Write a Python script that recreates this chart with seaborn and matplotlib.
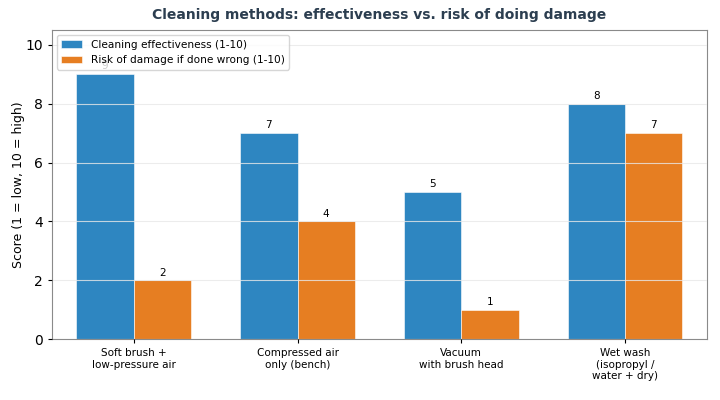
import pandas as pd
import matplotlib.pyplot as plt
import seaborn as sns

# Chart data
methods = [
    "Soft brush +\nlow-pressure air",
    "Compressed air\nonly (bench)",
    "Vacuum\nwith brush head",
    "Wet wash\n(isopropyl /\nwater + dry)",
]
effectiveness = [9, 7, 5, 8]
risk = [2, 4, 1, 7]
series_names = ["Cleaning effectiveness (1-10)", "Risk of damage if done wrong (1-10)"]
colors = ["#2e86c1", "#e67e22"]

df = pd.DataFrame({
    "method": methods * 2,
    "score": effectiveness + risk,
    "series": [series_names[0]] * len(methods) + [series_names[1]] * len(methods),
})

sns.set_style("white")
plt.rcParams['font.family'] = ['DejaVu Sans']
plt.rcParams.update({"text.color": "black", "axes.labelcolor": "black",
                     "xtick.color": "black", "ytick.color": "black"})

fig, ax = plt.subplots(figsize=(7.2, 4), dpi=100)
sns.barplot(data=df, x="method", y="score", hue="series", palette=colors,
            width=0.7, saturation=1, edgecolor="white", linewidth=0.4, ax=ax)

for container in ax.containers:
    ax.bar_label(container, fmt="%d", padding=2, fontsize=7.5)

ax.set_ylim(0, 10.5)
ax.set_xlabel("")
ax.set_ylabel("Score (1 = low, 10 = high)", fontsize=9, labelpad=0)
ax.set_title("Cleaning methods: effectiveness vs. risk of doing damage",
             fontsize=10, fontweight="bold", color="#2c3e50", pad=8)
ax.tick_params(axis="x", labelsize=7.5, length=3, bottom=True)
ax.tick_params(axis="y", labelsize=10, length=3, left=True)
ax.yaxis.grid(True, color="#e8e8e8", alpha=0.8, linewidth=0.8)
ax.set_axisbelow(False)
for s in ax.spines.values():
    s.set_color("#8a8a8a")
    s.set_linewidth(0.8)

ax.legend(loc="upper left", fontsize=7.6, frameon=True, framealpha=0.8,
          labelspacing=0.55)

fig.subplots_adjust(left=0.072, right=0.982, top=0.925, bottom=0.152)
plt.savefig("out.png")
